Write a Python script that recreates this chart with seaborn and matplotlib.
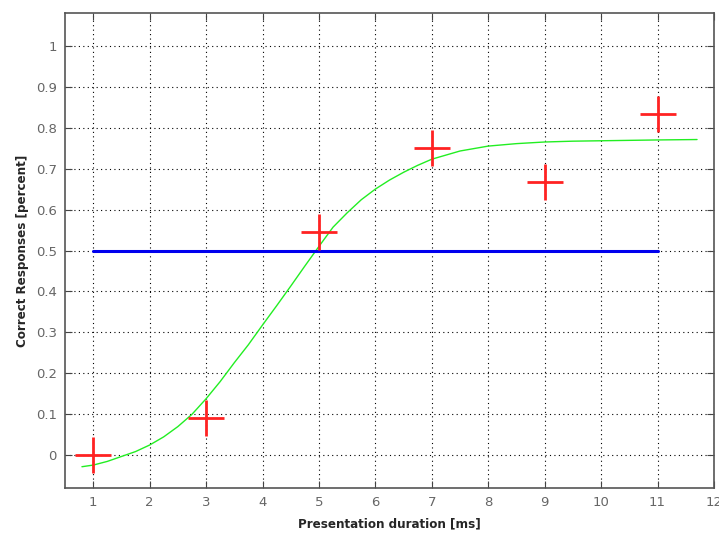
import matplotlib
matplotlib.use("Agg")
import matplotlib.pyplot as plt
from matplotlib import font_manager
import seaborn as sns

# Observed data (red crosses)
durations = [1, 3, 5, 7, 9, 11]
correct = [0.0, 0.091, 0.545, 0.75, 0.667, 0.833]

# Chance level (blue line)
chance_x = [1, 11]
chance_y = [0.5, 0.5]

# Fitted psychometric curve (green)
fit_x = [0.8, 1.0, 1.25, 1.5, 1.75, 2.0, 2.25, 2.5, 2.75, 3.0, 3.25, 3.5,
         3.75, 4.0, 4.25, 4.5, 4.75, 5.0, 5.25, 5.5, 5.75, 6.0, 6.25, 6.5,
         6.75, 7.0, 7.5, 8.0, 8.5, 9.0, 9.5, 10.0, 11.0, 11.7]
fit_y = [-0.028, -0.024, -0.015, -0.003, 0.009, 0.025, 0.045, 0.070, 0.100,
         0.138, 0.180, 0.226, 0.270, 0.318, 0.365, 0.413, 0.462, 0.510,
         0.557, 0.592, 0.624, 0.650, 0.672, 0.691, 0.708, 0.723, 0.743,
         0.755, 0.761, 0.765, 0.767, 0.768, 0.770, 0.771]

xticks = list(range(1, 13))
yticks = [0, 0.1, 0.2, 0.3, 0.4, 0.5, 0.6, 0.7, 0.8, 0.9, 1]
yticklabels = ["0", "0.1", "0.2", "0.3", "0.4", "0.5", "0.6", "0.7", "0.8", "0.9", "1"]

sns.set_style("ticks")
plt.rcParams['font.family'] = ['DejaVu Sans']

# pick a narrow/condensed bold face for axis labels if one is installed
names = {f.name: f for f in font_manager.fontManager.ttflist}
label_kw = dict(fontsize=9.5, fontweight='bold')
if 'Liberation Sans Narrow' in names:
    label_kw['family'] = 'Liberation Sans Narrow'
    label_kw['fontsize'] = 11
else:
    cond = [f for f in font_manager.fontManager.ttflist
            if 'condensed' in str(f.stretch) and f.name == 'DejaVu Sans']
    if cond:
        label_kw['family'] = 'DejaVu Sans'
        label_kw['fontstretch'] = 'condensed'
    else:
        label_kw['family'] = 'Liberation Sans'

fig = plt.figure(figsize=(7.19, 5.33), dpi=100)
ax = fig.add_axes([0.0904, 0.0844, 0.9026, 0.8912])

sns.lineplot(x=fit_x, y=fit_y, ax=ax, color='#22ee22', linewidth=1.0,
             sort=False, estimator=None, zorder=3)
sns.lineplot(x=chance_x, y=chance_y, ax=ax, color='#0000ee', linewidth=2.2,
             estimator=None, zorder=4)
sns.scatterplot(x=durations, y=correct, ax=ax, marker='+', s=650,
                color='#ff2222', linewidth=2.0, zorder=5)

ax.set_xlim(0.5, 12)
ax.set_ylim(-0.08, 1.08)
ax.set_xticks(xticks)
ax.set_xticklabels([str(t) for t in xticks])
ax.set_yticks(yticks)
ax.set_yticklabels(yticklabels)

ax.grid(True, linestyle=(0, (1, 3)), color='black', linewidth=0.8)
ax.tick_params(direction='in', length=5, top=True, right=True,
               labelsize=9.5, labelcolor='#666666', color='#444444', pad=6)
for s in ax.spines.values():
    s.set_visible(True)
    s.set_color('#555555')
    s.set_linewidth(1.2)

ax.set_xlabel('Presentation duration [ms]', labelpad=6, **label_kw)
ax.set_ylabel('Correct Responses [percent]', labelpad=5, **label_kw)

fig.savefig('out.png', dpi=100)
